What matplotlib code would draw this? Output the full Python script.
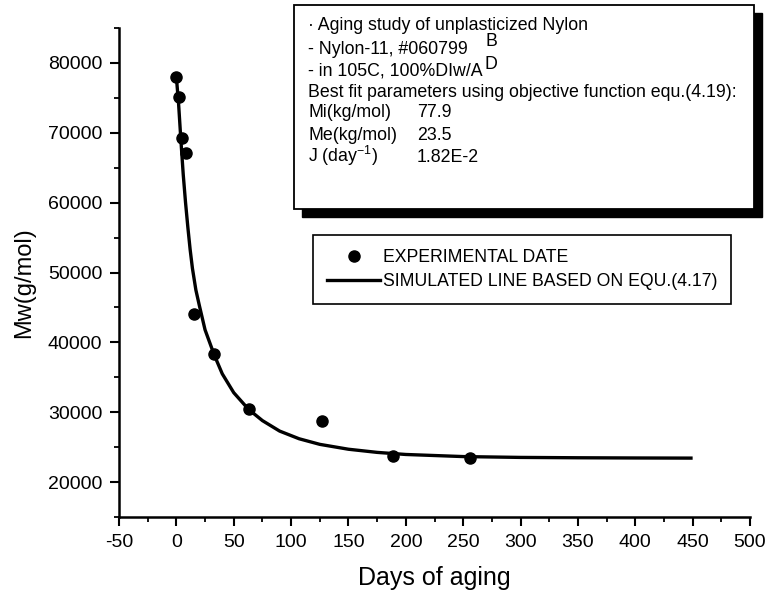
import matplotlib
matplotlib.use("Agg")
import matplotlib.pyplot as plt
from matplotlib.patches import Rectangle
from matplotlib.lines import Line2D
from matplotlib.ticker import MultipleLocator

plt.rcParams['font.family'] = ['Liberation Sans', 'DejaVu Sans']
plt.rcParams['mathtext.default'] = 'regular'
plt.rcParams['axes.unicode_minus'] = False

# ---- data ----
exp_days = [0, 2, 5, 8, 15, 33, 63, 127, 189, 256]
exp_mw = [78000, 75100, 69300, 67100, 44000, 38400, 30400, 28700, 23800, 23500]

curve_days = [0, 2, 4, 6, 8, 10, 12, 14, 17, 20, 25, 33, 40, 50, 63, 75, 90,
              107, 125, 150, 175, 200, 250, 300, 350, 400, 450]
curve_mw = [78000, 74000, 68800, 64000, 60000, 56500, 53300, 50600, 47500, 45300,
            41800, 38200, 35500, 32800, 30400, 28800, 27300, 26200, 25400, 24700,
            24250, 23950, 23650, 23530, 23480, 23450, 23430]

x_ticks = list(range(-50, 501, 50))
y_ticks = list(range(20000, 80001, 10000))

info_lines = ["\u00b7 Aging study of unplasticized Nylon",
              "- Nylon-11, #060799",
              "- in 105C, 100%DIw/A",
              "Best fit parameters using objective function equ.(4.19):"]
param_names = ["Mi(kg/mol)", "Me(kg/mol)", "J (day$^{-1}$)"]
param_values = ["77.9", "23.5", "1.82E-2"]

legend_labels = ["EXPERIMENTAL DATE", "SIMULATED LINE BASED ON EQU.(4.17)"]

# ---- figure ----
W, H = 767, 595
fig = plt.figure(figsize=(W / 100, H / 100), dpi=100)


def fx(px):
    return px / W


def fy(py):
    return 1 - py / H


ax = fig.add_axes([fx(119), fy(517), fx(750) - fx(119), fy(28) - fy(517)])

ax.plot(curve_days, curve_mw, color='black', lw=2.4, solid_capstyle='butt', zorder=2)
ax.plot(exp_days, exp_mw, 'o', color='black', ms=8, zorder=3)

ax.set_xlim(-50, 500)
ax.set_ylim(15000, 85000)
ax.set_xticks(x_ticks)
ax.set_yticks(y_ticks)
ax.xaxis.set_minor_locator(MultipleLocator(25))
ax.yaxis.set_minor_locator(MultipleLocator(5000))
for s in ['top', 'right']:
    ax.spines[s].set_visible(False)
for s in ['left', 'bottom']:
    ax.spines[s].set_linewidth(1.8)
ax.tick_params(which='major', direction='out', length=6.5, width=1.5,
               labelsize=14, pad=5.5)
ax.tick_params(which='minor', direction='out', length=3.5, width=1.3)

fig.text(fx(434), fy(578), "Days of aging", fontsize=18, ha='center', va='center')
fig.text(fx(24), fy(283), "Mw(g/mol)", fontsize=17, ha='center', va='center',
         rotation=90)

# legend
handles = [Line2D([], [], ls='none', marker='o', color='black', ms=8),
           Line2D([], [], color='black', lw=2.4)]
leg = ax.legend(handles, legend_labels, loc='upper left',
                bbox_to_anchor=(fx(313), fy(235)), bbox_transform=fig.transFigure,
                frameon=True, fancybox=False, edgecolor='black', framealpha=1,
                borderaxespad=0, handlelength=3.0, handletextpad=0.15,
                borderpad=0.8, labelspacing=0.4, fontsize=12.7, numpoints=1)
leg.get_frame().set_linewidth(1.2)

# info box with shadow
bx0, by0, bx1, by1 = 294, 5, 754, 209
off = 8
fig.add_artist(Rectangle((fx(bx0 + off), fy(by1 + off)), (bx1 - bx0) / W,
                         (by1 - by0) / H, transform=fig.transFigure,
                         facecolor='black', edgecolor='black', zorder=5))
fig.add_artist(Rectangle((fx(bx0), fy(by1)), (bx1 - bx0) / W, (by1 - by0) / H,
                         transform=fig.transFigure, facecolor='white',
                         edgecolor='black', lw=1.3, zorder=6))

fs = 12.8
baselines = [30, 54, 76, 97]
for txt, b in zip(info_lines, baselines):
    fig.text(fx(308), fy(b), txt, fontsize=fs, ha='left', va='baseline', zorder=7)
for name, val, b in zip(param_names, param_values, [117, 140, 162]):
    fig.text(fx(308), fy(b), name, fontsize=fs, ha='left', va='baseline', zorder=7)
    fig.text(fx(417), fy(b), val, fontsize=fs, ha='left', va='baseline', zorder=7)
fig.text(fx(486), fy(46), "B", fontsize=fs, ha='left', va='baseline', zorder=7)
fig.text(fx(484), fy(69), "D", fontsize=fs, ha='left', va='baseline', zorder=7)

fig.savefig("out.png", dpi=100)
